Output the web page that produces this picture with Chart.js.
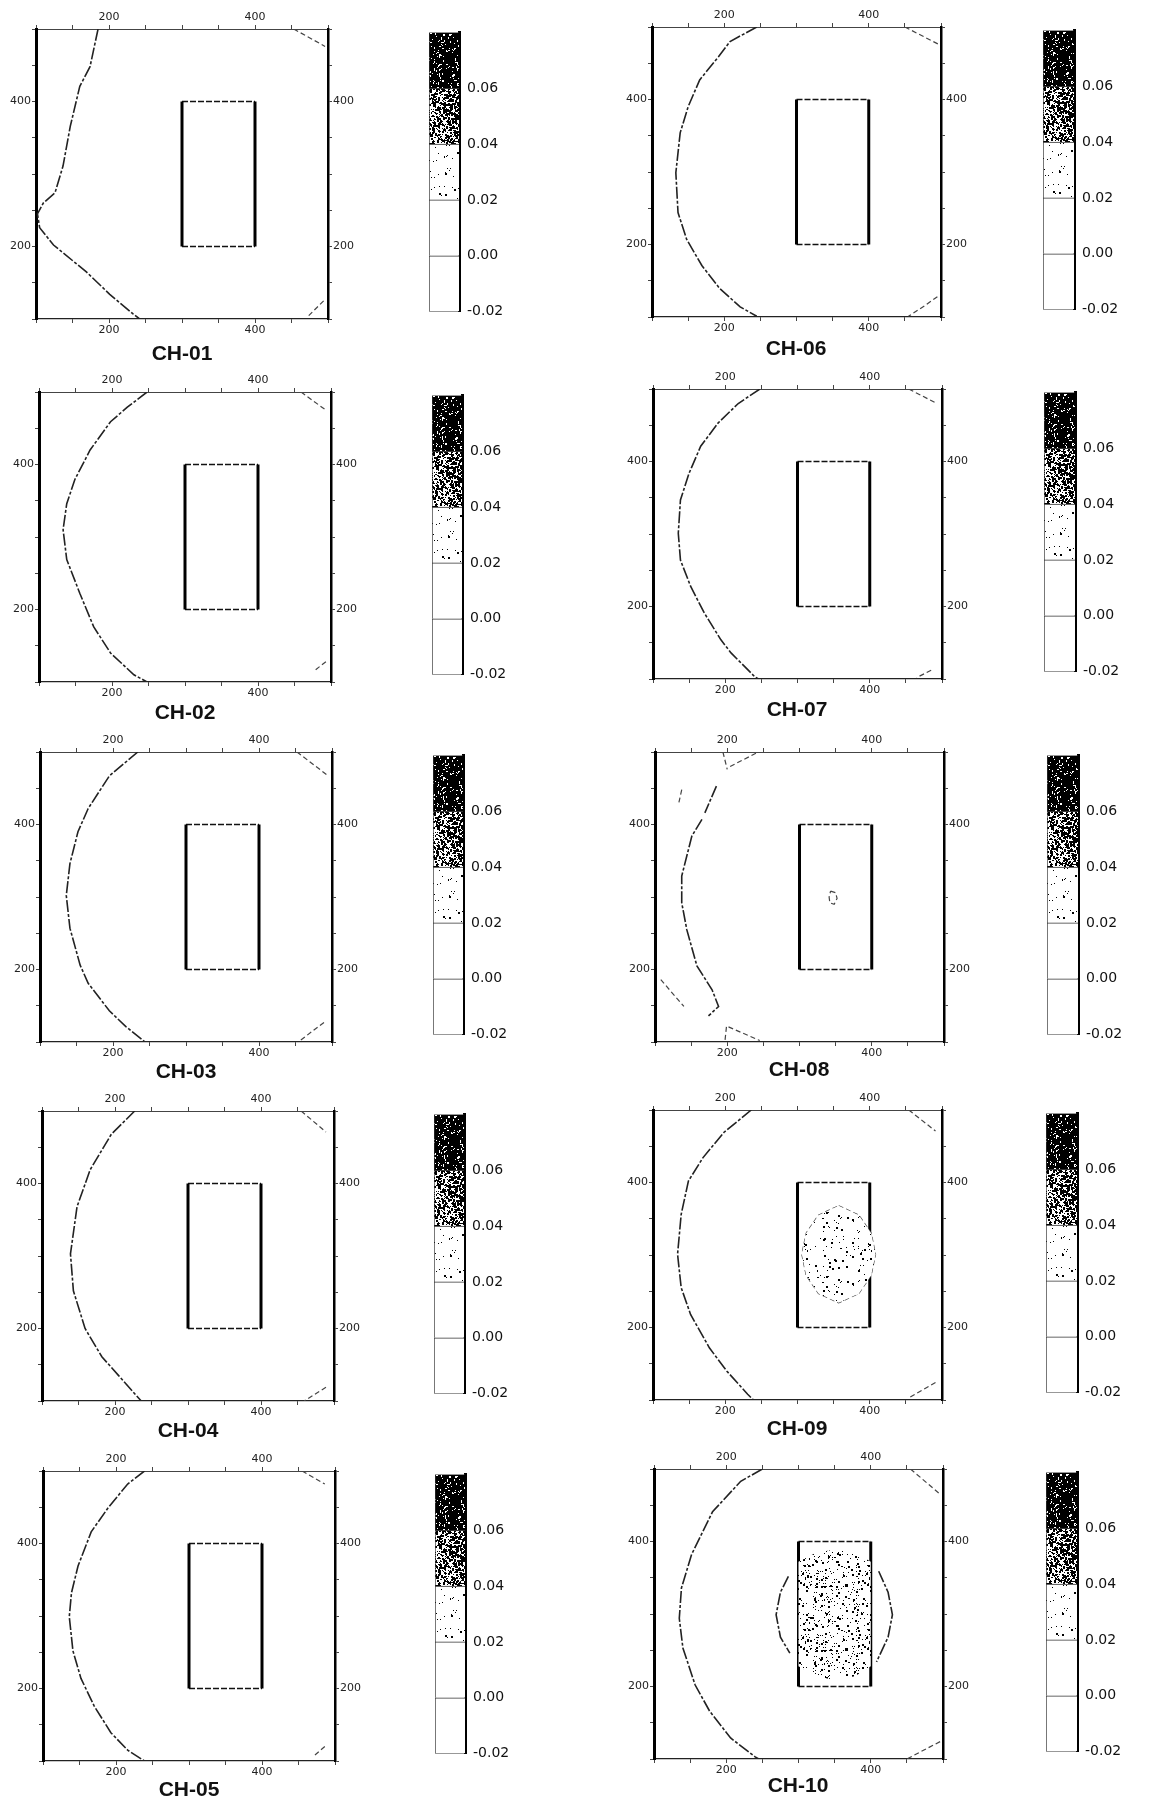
<!DOCTYPE html>
<html>
<head>
<meta charset="utf-8">
<script src="https://cdn.jsdelivr.net/npm/chart.js@4/dist/chart.umd.min.js"></script>
<style>
body{margin:0;background:#fff;width:1153px;height:1803px;position:relative;overflow:hidden}
canvas{position:absolute}
.ttl{position:absolute;width:120px;text-align:center;font:bold 21px "Liberation Sans",Arial,sans-serif;color:#111}
</style>
</head>
<body>
<script>
// panel names, left column then right column
var panelNames = ['CH-01','CH-02','CH-03','CH-04','CH-05','CH-06','CH-07','CH-08','CH-09','CH-10'];
var axisRange = [100, 500];
var axisLabels = [200, 400];
var rectX = [300, 400];
var rectY = [200, 400];

// colour bar levels and labels
var cbLevels = [-0.02, 0.00, 0.02, 0.04, 0.06, 0.08];
var cbTicks = [-0.02, 0.00, 0.02, 0.04, 0.06];

// contour lines, [x, y]
var ch01Line = [[185,500],[174,448],[160,421],[147,366],[137,311],[126,274],[110,260],[102,245],[105,226],[124,202],[169,165],[201,134],[233,107],[242,100]];
var ch01Top = [[453,500],[496,476]];
var ch01Bot = [[494,125],[471,102]];

var ch02Line = [[248,500],[221,479],[198,459],[170,420],[149,379],[138,346],[133,310],[138,269],[156,222],[175,176],[198,140],[230,110],[248,100]];
var ch02Top = [[459,500],[493,475]];
var ch02Bot = [[493,128],[479,117]];

var ch03Line = [[234,500],[195,467],[166,422],[152,390],[141,346],[136,302],[141,257],[155,206],[166,181],[195,143],[218,121],[244,100]];
var ch03Top = [[452,500],[495,467]];
var ch03Bot = [[489,127],[455,101]];

var ch04Line = [[227,500],[195,468],[166,419],[148,368],[139,303],[143,252],[159,200],[182,161],[205,135],[227,110],[236,100]];
var ch04Top = [[455,500],[489,471]];
var ch04Bot = [[489,119],[459,100]];

var ch05Line = [[239,500],[216,482],[189,449],[166,416],[148,369],[139,332],[136,299],[141,252],[152,214],[170,176],[193,139],[216,115],[239,100]];
var ch05Top = [[455,500],[486,482]];
var ch05Bot = [[486,120],[470,106]];

var ch06Line = [[245,500],[208,480],[192,459],[166,427],[150,390],[139,354],[133,299],[136,244],[148,207],[169,171],[194,139],[222,114],[245,101]];
var ch06Top = [[450,500],[497,476]];
var ch06Bot = [[495,128],[478,116],[455,101]];

var ch07Line = [[248,500],[218,480],[190,453],[166,421],[150,384],[138,347],[135,301],[138,264],[152,228],[171,191],[194,154],[208,136],[241,103],[246,100]];
var ch07Top = [[454,500],[493,480]];
var ch07Bot = [[485,112],[465,102]];

var ch08Line = [[165,407],[151,384],[137,329],[137,292],[144,255],[158,205],[179,172],[188,149],[174,136]];
var ch08PieceA = [[137,448],[133,430]];
var ch08PieceB = [[185,453],[169,416]];
var ch08PieceC = [[194,500],[200,476]];
var ch08PieceD = [[204,480],[243,500]];
var ch08PieceE = [[108,186],[140,149]];
var ch08PieceF = [[197,103],[199,122],[245,102]];
var ch08Loop = [[343,308],[350,306],[352,298],[348,290],[342,292],[341,300],[343,308]];

var ch09Line = [[236,500],[198,469],[169,434],[149,402],[139,356],[134,301],[139,255],[152,218],[178,172],[202,140],[231,108],[239,100]];
var ch09Top = [[454,500],[491,471]];
var ch09Bot = [[491,124],[454,103]];
var ch09Inner = [[357,368],[385,355],[402,330],[408,301],[402,272],[385,247],[357,234],[329,247],[312,272],[306,301],[312,330],[329,355],[357,368]];

var ch10Line = [[250,500],[220,483],[181,441],[152,382],[138,336],[135,294],[140,253],[157,202],[177,166],[206,129],[240,103],[245,100]];
var ch10Top = [[455,500],[494,467]];
var ch10Bot = [[496,124],[450,100]];
var ch10ArcL = [[286,352],[275,330],[269,299],[275,268],[288,246]];
var ch10ArcR = [[411,359],[424,330],[430,299],[424,268],[408,234]];
var ch10Inner = [[300,372],[325,385],[352,389],[378,385],[400,372],[400,228],[378,214],[350,209],[325,214],[300,228],[300,372]];

var panelLines = [
  [ch01Line], [ch02Line], [ch03Line], [ch04Line], [ch05Line],
  [ch06Line], [ch07Line], [ch08Line, ch08PieceB], [ch09Line], [ch10Line, ch10ArcL, ch10ArcR]
];
var panelDashes = [
  [ch01Top, ch01Bot], [ch02Top, ch02Bot], [ch03Top, ch03Bot], [ch04Top, ch04Bot], [ch05Top, ch05Bot],
  [ch06Top, ch06Bot], [ch07Top, ch07Bot], [ch08PieceA, ch08PieceC, ch08PieceD, ch08PieceE, ch08PieceF, ch08Loop],
  [ch09Top, ch09Bot, ch09Inner], [ch10Top, ch10Bot]
];
var panelFills = [[], [], [], [], [], [], [], [], [ch09Inner], [ch10Inner]];

// layout: top-left corner of each plot area, colour bar left edge, title centre
var frames = [[36,29],[39,392],[40,752],[42,1111],[43,1471],[652,27],[653,389],[655,752],[653,1110],[654,1469]];
var barLeft = [429,432,433,434,435,1043,1044,1047,1046,1046];
var titleY = [353,712,1071,1430,1789,348,709,1069,1428,1785];

// speckled texture for the shaded levels
function stipple(density, seed, big) {
  var c = document.createElement('canvas');
  c.width = 64; c.height = 64;
  var g = c.getContext('2d');
  g.fillStyle = '#fff'; g.fillRect(0, 0, 64, 64);
  g.fillStyle = '#000';
  var s = seed >>> 0;
  function rnd() {
    s = (s + 0x6D2B79F5) >>> 0;
    var t = s;
    t = Math.imul(t ^ (t >>> 15), t | 1);
    t ^= t + Math.imul(t ^ (t >>> 7), t | 61);
    return ((t ^ (t >>> 14)) >>> 0) / 4294967296;
  }
  for (var y = 0; y < 64; y++) {
    for (var x = 0; x < 64; x++) {
      var r = rnd();
      if (r < density) {
        var d = r < density * big ? 2 : 1;
        g.fillRect(x, y, d, d);
      }
    }
  }
  return g.createPattern(c, 'repeat');
}
var patDark = stipple(0.66, 11, 0.5);
var patMid = stipple(0.3, 23, 0.4);
var patLight = stipple(0.015, 37, 0.2);
var patInner = stipple(0.025, 51, 0.3);
var patInner2 = stipple(0.07, 63, 0.3);
var bandFill = ['#fff', '#fff', patLight, patMid, patDark];

function pts(a) { return a.map(function(p){ return {x:p[0], y:p[1]}; }); }

function axis(pos, border, size) {
  var vertical = pos === 'left' || pos === 'right';
  return {
    type: 'linear', position: pos, min: axisRange[0], max: axisRange[1],
    afterFit: function(s){ if (vertical) s.width = size; else s.height = size; },
    ticks: {
      stepSize: 50, autoSkip: false, maxRotation: 0, padding: 1,
      callback: function(v){ return axisLabels.indexOf(v) >= 0 ? String(v) : ''; },
      font: {family: 'DejaVu Sans', size: 11}, color: '#222'
    },
    grid: {drawOnChartArea: false, tickLength: 4, color: '#444', tickWidth: 1},
    border: border
  };
}

function drawPanel(i) {
  var L = frames[i][0], T = frames[i][1];
  var W = i < 5 ? 292 : 289, H = 290;
  var PL = 40, PR = 36, PT = 24, PB = 24;
  var cv = document.createElement('canvas');
  cv.width = W + PL + PR; cv.height = H + PT + PB;
  cv.style.left = (L - PL) + 'px'; cv.style.top = (T - PT) + 'px';
  document.body.appendChild(cv);

  var ds = [];
  panelFills[i].forEach(function(f){
    ds.push({data: pts(f), showLine: true, fill: 'shape', backgroundColor: i == 9 ? patInner2 : patInner, borderWidth: 0, pointRadius: 0});
  });
  panelLines[i].forEach(function(l){
    ds.push({data: pts(l), showLine: true, borderColor: '#222', borderWidth: 1.6, borderDash: [12,2,3,2], pointRadius: 0});
  });
  panelDashes[i].forEach(function(l){
    ds.push({data: pts(l), showLine: true, borderColor: '#444', borderWidth: 1.2, borderDash: [5,3], pointRadius: 0});
  });
  // the rectangle
  ds.push({data: pts([[rectX[0],rectY[0]],[rectX[0],rectY[1]]]), showLine: true, borderColor: '#000', borderWidth: 3, pointRadius: 0});
  ds.push({data: pts([[rectX[1],rectY[0]],[rectX[1],rectY[1]]]), showLine: true, borderColor: '#000', borderWidth: 3, pointRadius: 0});
  ds.push({data: pts([[rectX[0],rectY[1]],[rectX[1],rectY[1]]]), showLine: true, borderColor: '#111', borderWidth: 1.5, borderDash: [6,2], pointRadius: 0});
  ds.push({data: pts([[rectX[0],rectY[0]],[rectX[1],rectY[0]]]), showLine: true, borderColor: '#111', borderWidth: 1.5, borderDash: [6,2], pointRadius: 0});

  new Chart(cv.getContext('2d'), {
    type: 'scatter',
    data: {datasets: ds},
    options: {
      responsive: false, animation: false, events: [],
      layout: {padding: 0},
      plugins: {legend: {display: false}, tooltip: {enabled: false}},
      scales: {
        x: axis('bottom', {color: '#222', width: 1.2, dash: [8,3,2,3]}, PB),
        x2: axis('top', {color: '#444', width: 1, dash: [6,3,1,3]}, PT),
        y: axis('left', {color: '#000', width: 3}, PL),
        y2: axis('right', {color: '#000', width: 2.5, dash: [7,2]}, PR)
      }
    }
  });

  // colour bar
  var bw = i < 5 ? 30 : 31, bh = 296, bt = T - 5;
  var cb = document.createElement('canvas');
  cb.width = bw + 54; cb.height = bh + 16;
  cb.style.left = barLeft[i] + 'px'; cb.style.top = (bt - 8) + 'px';
  document.body.appendChild(cb);
  var bands = [];
  for (var k = 0; k < cbLevels.length - 1; k++) {
    bands.push({
      data: [[cbLevels[k], cbLevels[k+1]]],
      backgroundColor: bandFill[k], borderColor: '#333',
      borderWidth: {top: 1, left: 1, right: 0, bottom: k == 0 ? 1 : 0},
      borderSkipped: false, grouped: false, barPercentage: 1, categoryPercentage: 1
    });
  }
  new Chart(cb.getContext('2d'), {
    type: 'bar',
    data: {labels: [''], datasets: bands},
    options: {
      responsive: false, animation: false, events: [],
      layout: {padding: {top: 8, bottom: 8, left: 0, right: 0}},
      plugins: {legend: {display: false}, tooltip: {enabled: false}},
      scales: {
        x: {display: false},
        y: {
          position: 'right', min: cbLevels[0], max: cbLevels[cbLevels.length - 1],
          afterFit: function(s){ s.width = 54; },
          ticks: {
            stepSize: 0.02, padding: 8, color: '#111', font: {family: 'DejaVu Sans', size: 14},
            callback: function(v){
              var hit = cbTicks.some(function(t){ return Math.abs(t - v) < 1e-9; });
              if (!hit) return '';
              return Math.abs(v) < 1e-9 ? '0.00' : v.toFixed(2);
            }
          },
          grid: {display: false, drawTicks: false},
          border: {display: true, color: '#000', width: 3}
        }
      }
    }
  });

  // panel title
  var t = document.createElement('div');
  t.className = 'ttl';
  t.textContent = panelNames[i];
  var cx = i < 5 ? 146 + L : 144 + L;
  t.style.left = (cx - 60) + 'px';
  t.style.top = (titleY[i] - 12) + 'px';
  document.body.appendChild(t);
}

for (var i = 0; i < panelNames.length; i++) drawPanel(i);
</script>
</body>
</html>
